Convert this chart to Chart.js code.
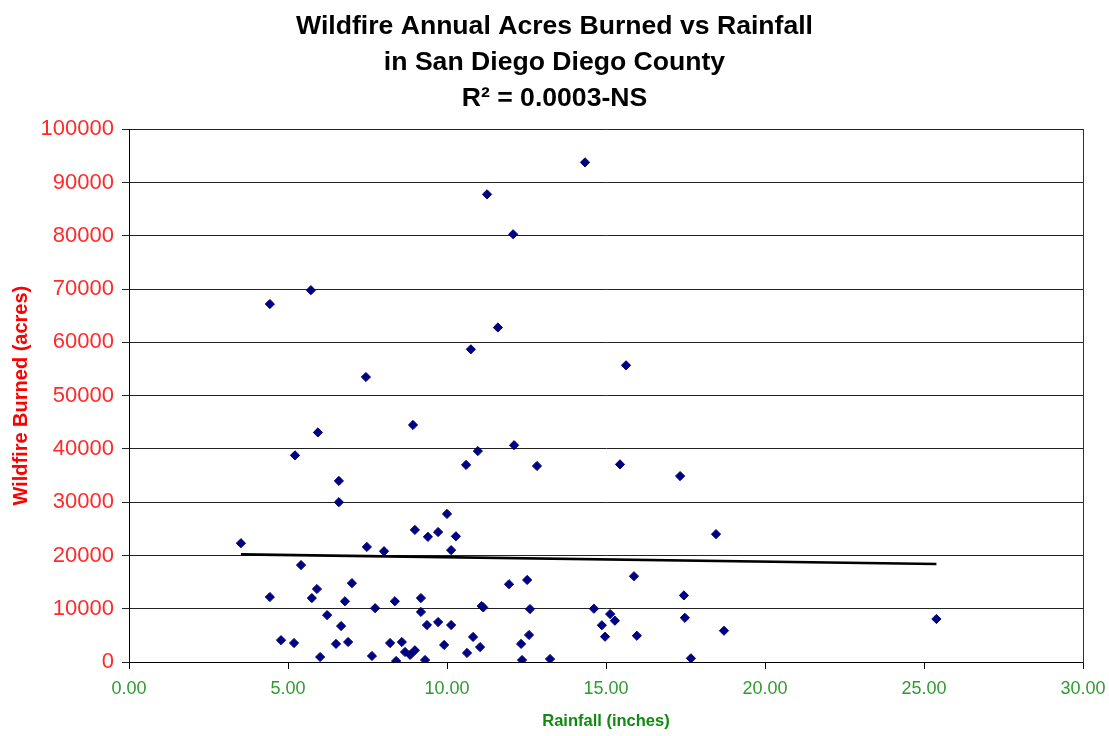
<!DOCTYPE html>
<html>
<head>
<meta charset="utf-8">
<script src="https://cdn.jsdelivr.net/npm/chart.js@4.4.1/dist/chart.umd.min.js"></script>
<style>
  html, body { margin: 0; padding: 0; background: #ffffff; }
  #c { display: block; }
</style>
</head>
<body>
<canvas id="c" width="1109" height="736"></canvas>
<script>
// ---- Data ----
const rainfall = [3.52, 4.43, 4.43, 4.78, 5.19, 5.22, 5.41, 5.72, 5.75, 5.91, 5.94, 6.01, 6.23, 6.51, 6.60, 6.60, 6.67, 6.79, 6.89, 7.01,
  7.45, 7.48, 7.64, 7.74, 8.02, 8.21, 8.36, 8.40, 8.58, 8.68, 8.84, 8.99, 8.93, 8.99, 9.18, 9.18, 9.31, 9.37, 9.40, 9.72,
  9.72, 9.91, 10.00, 10.13, 10.13, 10.28, 10.60, 10.63, 10.75, 10.82, 10.97, 11.04, 11.09, 11.14, 11.26, 11.60, 11.95, 12.08, 12.11, 12.33,
  12.36, 12.52, 12.58, 12.61, 12.83, 13.24, 14.34, 14.62, 14.87, 14.97, 15.13, 15.28, 15.44, 15.63, 15.88, 15.97, 17.33, 17.45, 17.48, 17.67,
  18.46, 18.71, 25.39];
const acresBurned = [22300, 67200, 12200, 4100, 3560, 38800, 18200, 69800, 12000, 13700, 43100, 940, 8800, 3400, 34000, 30000, 6750, 11400, 3750, 14800,
  53500, 21600, 1130, 10100, 20800, 3560, 11400, 190, 3750, 1880, 1330, 2200, 44500, 24800, 12000, 9400, 375, 6940, 23500, 24400,
  7500, 3200, 27800, 21000, 6940, 23600, 37000, 1700, 58700, 4700, 39600, 2800, 10500, 10250, 87800, 62800, 14600, 80300, 40700, 3400,
  375, 15400, 5070, 9940, 36800, 560, 93800, 10000, 6900, 4750, 9000, 7750, 37100, 55700, 16100, 4930, 34900, 12500, 8300, 690,
  24000, 5870, 8070];
const trendX = [3.52, 25.39];
const trendY = [20200, 18400];
const titleLines = ['Wildfire Annual Acres Burned vs Rainfall', 'in San Diego Diego County', 'R\u00B2 = 0.0003-NS'];
const xTitle = 'Rainfall (inches)';
const yTitle = 'Wildfire Burned (acres)';

const FONT = "'Liberation Sans', Arial, Helvetica, sans-serif";

const points = rainfall.map((x, i) => ({ x: x, y: acresBurned[i] }));
const trend = trendX.map((x, i) => ({ x: x, y: trendY[i] }));

new Chart(document.getElementById('c'), {
  type: 'scatter',
  data: {
    datasets: [
      {
        type: 'line',
        label: 'Trend',
        data: trend,
        borderColor: '#000000',
        borderWidth: 2.6,
        pointRadius: 0,
        fill: false,
        tension: 0,
        order: 2
      },
      {
        label: 'Acres',
        data: points,
        pointStyle: 'rectRot',
        pointRadius: 4.6,
        backgroundColor: '#000080',
        borderColor: '#000080',
        borderWidth: 1,
        order: 1
      }
    ]
  },
  options: {
    responsive: false,
    animation: false,
    devicePixelRatio: 1,
    layout: { padding: 0 },
    plugins: {
      legend: { display: false },
      tooltip: { enabled: false },
      title: {
        display: true,
        text: titleLines,
        color: '#000000',
        font: { family: FONT, size: 26.6, weight: 'bold', lineHeight: 1.37 },
        padding: { top: 8, bottom: 12 }
      }
    },
    scales: {
      x: {
        type: 'linear',
        min: 0,
        max: 30,
        afterFit: (s) => { s.height = 74; s.paddingRight = 26; s.paddingLeft = 0; },
        ticks: {
          stepSize: 5,
          color: '#2f9a2f',
          font: { family: FONT, size: 18 },
          padding: 9,
          maxRotation: 0,
          callback: (v) => Number(v).toFixed(2)
        },
        grid: { drawOnChartArea: false, color: '#000000', tickLength: 7 },
        border: { display: true, color: '#000000', width: 1 },
        title: {
          display: true,
          text: xTitle,
          color: '#108a10',
          font: { family: FONT, size: 16.5, weight: 'bold' },
          padding: { top: 0, bottom: 5 }
        }
      },
      y: {
        type: 'linear',
        min: 0,
        max: 100000,
        afterFit: (s) => { s.width = 129; },
        ticks: {
          stepSize: 10000,
          color: '#ff2a2a',
          font: { family: FONT, size: 22 },
          padding: 8,
          callback: (v) => String(v)
        },
        grid: { color: '#222222', lineWidth: 1, tickLength: 7 },
        border: { display: true, color: '#000000', width: 1 },
        title: {
          display: true,
          text: yTitle,
          color: '#ff0000',
          font: { family: FONT, size: 20, weight: 'bold' },
          padding: { top: 9, bottom: 0 }
        }
      },
      yRight: {
        type: 'linear',
        position: 'right',
        min: 0,
        max: 100000,
        afterFit: (s) => { s.width = 0; },
        ticks: { display: false },
        grid: { drawOnChartArea: false, drawTicks: false },
        border: { display: true, color: '#333333', width: 1 }
      }
    }
  }
});
</script>
</body>
</html>
